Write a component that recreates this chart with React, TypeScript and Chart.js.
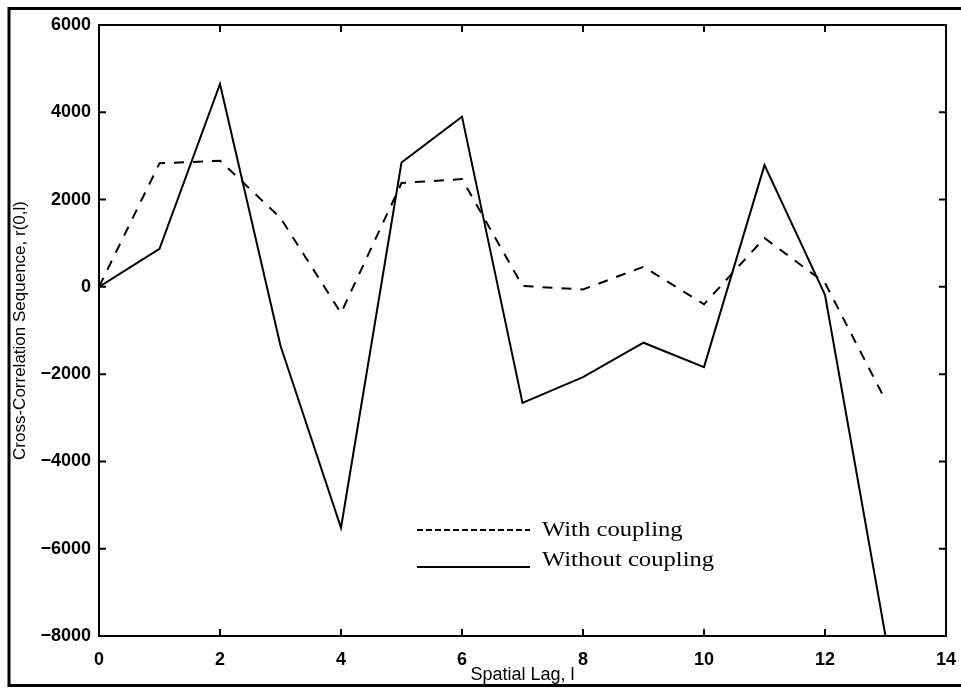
import React, { useEffect, useRef } from "react";
import { Chart, registerables } from "chart.js";

Chart.register(...registerables);

const lags = [0, 1, 2, 3, 4, 5, 6, 7, 8, 9, 10, 11, 12, 13];
const withCoupling = [0, 2830, 2890, 1580, -600, 2380, 2470, 20, -60, 460, -400, 1120, 90, -2600];
const withoutCoupling = [0, 870, 4650, -1350, -5520, 2850, 3900, -2660, -2070, -1280, -1840, 2790, -180, -8000];
const xTicks = [0, 2, 4, 6, 8, 10, 12, 14];
const yTicks = [6000, 4000, 2000, 0, -2000, -4000, -6000, -8000];
const legendLabels = ["With coupling", "Without coupling"];

const framePlugin = {
  id: "framePlugin",
  afterDraw(chart: any) {
    const { ctx, chartArea, scales } = chart;
    const { left, right, top, bottom } = chartArea;
    ctx.save();
    ctx.strokeStyle = "#000";
    // outer frame
    ctx.lineWidth = 3;
    ctx.strokeRect(9, 8.5, 1000, 677);
    // axes box
    ctx.lineWidth = 2;
    ctx.strokeRect(left, top, right - left, bottom - top);
    // inward ticks
    const tl = 7;
    ctx.beginPath();
    xTicks.forEach((v) => {
      const x = scales.x.getPixelForValue(v);
      ctx.moveTo(x, bottom);
      ctx.lineTo(x, bottom - tl);
      ctx.moveTo(x, top);
      ctx.lineTo(x, top + tl);
    });
    yTicks.forEach((v) => {
      const y = scales.y.getPixelForValue(v);
      ctx.moveTo(left, y);
      ctx.lineTo(left + tl, y);
      ctx.moveTo(right, y);
      ctx.lineTo(right - tl, y);
    });
    ctx.stroke();

    // legend
    const lx0 = 417;
    const lx1 = 530;
    ctx.lineWidth = 2;
    ctx.setLineDash([6, 3]);
    ctx.beginPath();
    ctx.moveTo(lx0, 530);
    ctx.lineTo(lx1, 530);
    ctx.stroke();
    ctx.setLineDash([]);
    ctx.beginPath();
    ctx.moveTo(lx0, 567);
    ctx.lineTo(lx1, 567);
    ctx.stroke();

    ctx.fillStyle = "#000";
    ctx.font = '22px "Liberation Serif", "Times New Roman", serif';
    ctx.textBaseline = "alphabetic";
    ctx.textAlign = "left";
    const sx = 1.12;
    ctx.save();
    ctx.translate(542, 536);
    ctx.scale(sx, 1);
    ctx.fillText(legendLabels[0], 0, 0);
    ctx.restore();
    ctx.save();
    ctx.translate(542, 566);
    ctx.scale(sx, 1);
    ctx.fillText(legendLabels[1], 0, 0);
    ctx.restore();
    ctx.restore();
  },
};

export default function App() {
  const canvasRef = useRef<HTMLCanvasElement | null>(null);

  useEffect(() => {
    if (!canvasRef.current) return;
    const chart = new Chart(canvasRef.current, {
      type: "line",
      data: {
        datasets: [
          {
            label: legendLabels[0],
            data: lags.map((l, i) => ({ x: l, y: withCoupling[i] })),
            borderColor: "#000",
            borderWidth: 2,
            borderDash: [10, 9],
            pointRadius: 0,
            tension: 0,
            fill: false,
          },
          {
            label: legendLabels[1],
            data: lags.map((l, i) => ({ x: l, y: withoutCoupling[i] })),
            borderColor: "#000",
            borderWidth: 2,
            pointRadius: 0,
            tension: 0,
            fill: false,
          },
        ],
      },
      options: {
        animation: false,
        responsive: false,
        maintainAspectRatio: false,
        devicePixelRatio: 1,
        layout: { padding: { top: 25, right: 15, left: 0, bottom: 0 } },
        plugins: {
          legend: { display: false },
          tooltip: { enabled: false },
        },
        scales: {
          x: {
            type: "linear",
            min: 0,
            max: 14,
            grid: { display: false, drawTicks: false },
            border: { display: false },
            afterBuildTicks: (scale: any) => {
              scale.ticks = xTicks.map((v) => ({ value: v }));
            },
            afterFit: (scale: any) => {
              scale.height = 53;
              scale.paddingRight = 0;
              scale.paddingLeft = 0;
            },
            ticks: {
              color: "#000",
              padding: 13,
              maxRotation: 0,
              autoSkip: false,
              font: { family: '"Liberation Sans", Arial, sans-serif', size: 18, weight: "bold" },
            },
            title: {
              display: true,
              text: "Spatial Lag, l",
              color: "#000",
              padding: { top: 0, bottom: 3 },
              font: { family: '"Liberation Sans", Arial, sans-serif', size: 18 },
            },
          },
          y: {
            type: "linear",
            min: -8000,
            max: 6000,
            grid: { display: false, drawTicks: false },
            border: { display: false },
            afterBuildTicks: (scale: any) => {
              scale.ticks = yTicks.map((v) => ({ value: v }));
            },
            afterFit: (scale: any) => {
              scale.width = 99;
            },
            ticks: {
              color: "#000",
              padding: 8,
              autoSkip: false,
              callback: (v: any) => (v < 0 ? "\u2212" + String(-v) : String(v)),
              font: { family: '"Liberation Sans", Arial, sans-serif', size: 18, weight: "bold" },
            },
            title: {
              display: true,
              text: "Cross-Correlation Sequence, r(0,l)",
              color: "#000",
              padding: { top: 10, bottom: 0 },
              font: { family: '"Liberation Sans", Arial, sans-serif', size: 17 },
            },
          },
        },
      },
      plugins: [framePlugin],
    });
    return () => chart.destroy();
  }, []);

  return (
    <div style={{ position: "fixed", left: 0, top: 0, width: 961, height: 689, background: "#fff" }}>
      <canvas ref={canvasRef} width={961} height={689} style={{ display: "block", width: 961, height: 689 }} />
    </div>
  );
}
